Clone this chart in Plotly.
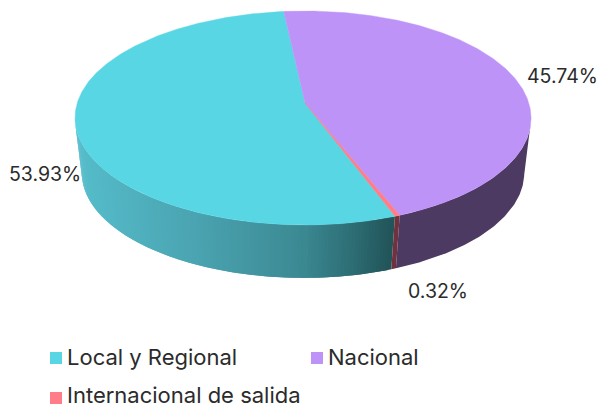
import numpy as np
import plotly.graph_objects as go

categories = ["Local y Regional", "Nacional", "Internacional de salida"]
values = [53.93, 45.74, 0.32]
top_colors = ["#58D6E3", "#BE93F8", "#FF7C89"]

# Side wall shading: (x pixel, rgb) stops per slice
side_stops = [
    [(80, (86, 188, 202)), (200, (74, 163, 176)), (300, (60, 138, 148)), (350, (47, 112, 119)), (395, (33, 84, 88))],
    [(300, (77, 58, 98)), (530, (77, 58, 98))],
    [(300, (112, 50, 62)), (530, (112, 50, 62))],
]

FONT = "Inter, Lato, sans-serif"
INK = "#2b2b2b"

# Projection of the tilted disc
APEX_X, APEX_Y = 305.0, 103.0
RIM_X = 303.0
AX, BY, K = 225.8, 104.9, 0.14
ELL_X, ELL_Y = 303.0, 118.0
START = -200.3
WALL_FROM, WALL_TO = 99, 261
STEP = 0.75


def top_xy(theta):
    t = np.radians(theta)
    u, v = np.sin(t), -np.cos(t)
    w = 1 - K * v
    return RIM_X + AX * u / w + 2 * v ** 2, APEX_Y + BY * v / w


def bottom_xy(theta):
    x, y = top_xy(theta)
    v = -np.cos(np.radians(theta))
    return ELL_X + 0.97 * (x - ELL_X) - 1 * np.clip(v, 0, 1) ** 2, ELL_Y + 55 + 0.98 * (y - ELL_Y)


def shade(stops, x):
    xs = [s[0] for s in stops]
    rgb = [np.interp(x, xs, [s[1][i] for s in stops]) for i in range(3)]
    return "rgb(%d,%d,%d)" % tuple(int(c) for c in rgb)


def wall(tt, col):
    x1, y1 = top_xy(tt)
    x2, y2 = bottom_xy(tt)
    xs = np.concatenate([x1, x2[::-1], x1[:1]])
    ys = np.concatenate([y1, y2[::-1], y1[:1]])
    return go.Scatter(x=xs, y=ys, mode="lines", fill="toself", fillcolor=col,
                      line=dict(width=0), hoverinfo="skip", showlegend=False)


shares = np.array(values) / sum(values) * 360
edges = START + np.concatenate([[0], np.cumsum(shares)])

fig = go.Figure()

# Side wall: shaded slice as overlapping strips, flat slices as one polygon
for i in range(len(values)):
    a, b = edges[i], edges[i + 1]
    for off in (0, 360):
        lo, hi = max(a + off, WALL_FROM), min(b + off, WALL_TO)
        if hi <= lo:
            continue
        if len(side_stops[i]) == 2:
            fig.add_trace(wall(np.linspace(lo, hi, 80), shade(side_stops[i], 400)))
            continue
        n = max(1, int((hi - lo) / STEP))
        ts = np.linspace(lo, hi, n + 1)
        pairs = sorted(zip(ts[:-1], ts[1:]), key=lambda s: abs((s[0] + s[1]) / 2 - 180), reverse=True)
        for p, q in pairs:
            mid = (p + q) / 2
            p2, q2 = (p - STEP, q) if mid > 180 else (p, q + STEP)
            p2, q2 = max(p2, lo), min(q2, hi)
            x, _ = top_xy(np.array([mid]))
            fig.add_trace(wall(np.linspace(p2, q2, 4), shade(side_stops[i], float(x[0]))))

# Top face
for i, name in enumerate(categories):
    tt = np.linspace(edges[i], edges[i + 1], max(3, int(shares[i] * 2)))
    x, y = top_xy(tt)
    xs = np.concatenate([[APEX_X], x, [APEX_X]])
    ys = np.concatenate([[APEX_Y], y, [APEX_Y]])
    fig.add_trace(go.Scatter(x=xs, y=ys, mode="lines", fill="toself", fillcolor=top_colors[i],
                             line=dict(color=top_colors[i], width=0.4), name=name, showlegend=False))

# Data labels
label_pos = [(45, 174), (562, 76), (438, 291)]
annotations = [dict(x=p[0], y=p[1], xref="x", yref="y", text=f"{v:.2f}%", showarrow=False,
                    font=dict(family=FONT, size=19.5, color=INK))
               for v, p in zip(values, label_pos)]

# Legend
legend_pos = [(50, 358), (311, 358), (50, 398)]
shapes = []
for c, name, (lx, ly) in zip(top_colors, categories, legend_pos):
    shapes.append(dict(type="rect", xref="x", yref="y", x0=lx, x1=lx + 12, y0=ly - 6, y1=ly + 6,
                       fillcolor=c, line=dict(width=0), layer="above"))
    annotations.append(dict(x=lx + 14.5, y=ly - 3 if ly > 380 else ly - 1, xref="x", yref="y", text=name,
                            showarrow=False, xanchor="left", font=dict(family=FONT, size=22, color=INK)))

fig.update_layout(
    width=600, height=407, margin=dict(l=0, r=0, t=0, b=0),
    paper_bgcolor="white", plot_bgcolor="white", showlegend=False,
    xaxis=dict(range=[0, 600], visible=False, fixedrange=True),
    yaxis=dict(range=[407, 0], visible=False, fixedrange=True),
    annotations=annotations, shapes=shapes,
)
fig.write_html("out.html", config={"displayModeBar": False},
               post_script="document.body.style.margin='0';document.body.style.overflow='hidden';")
